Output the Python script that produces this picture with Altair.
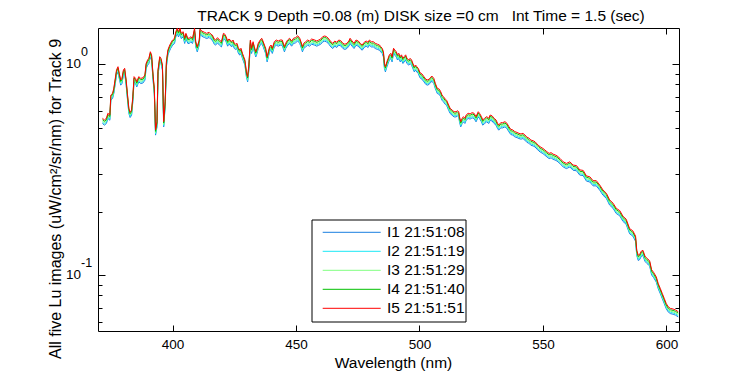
import altair as alt
import pandas as pd

# ---------------- data ----------------
image_names = ["I1 21:51:08", "I2 21:51:19", "I3 21:51:29", "I4 21:51:40", "I5 21:51:51"]
image_colors = ["#1a7fe0", "#19e8f5", "#80ff80", "#00c000", "#ff0000"]
# relative level of each image versus I5
image_level = [0.945, 0.958, 0.970, 0.985, 1.000]

wavelength = [
    371.6, 372.4, 373.2, 373.8, 374.6, 375.0, 375.7, 376.2, 376.8, 377.3, 377.9, 378.4, 379.0, 379.5,
    380.1, 380.6, 381.2, 381.7, 382.3, 382.8, 383.4, 383.9, 384.4, 385.0, 385.5, 386.3, 387.1, 388.0,
    388.8, 389.3, 389.9, 390.4, 391.0, 391.5, 392.1, 392.6, 393.1, 393.7, 394.1, 394.8, 395.3, 395.9,
    396.4, 397.0, 397.5, 398.1, 398.6, 399.2, 400.0, 400.8, 401.3, 401.9, 402.4, 403.0, 403.5, 404.3,
    404.9, 405.4, 406.2, 406.8, 407.3, 408.1, 408.9, 409.4, 410.0, 410.8,
    411.1, 411.8, 412.9, 413.8, 414.8, 415.6, 416.1, 416.9, 417.4, 418.2, 419.0, 419.8, 420.6, 421.2,
    421.7, 422.3, 422.8, 423.4, 423.9, 424.5, 425.0, 425.6, 426.1, 426.6, 427.2, 427.7, 428.3, 428.8,
    429.3, 429.9, 430.4, 430.9, 431.5, 432.0, 432.6, 433.1, 433.7, 434.2, 434.7, 435.5, 436.1, 436.6,
    437.2, 437.7, 438.3, 438.8, 439.3, 439.9, 440.4, 441.2, 442.0, 442.8, 443.6, 444.4, 445.3, 445.8,
    446.6, 447.4, 448.2, 449.0, 449.8, 450.7, 451.5, 452.0, 452.6, 453.1, 453.9, 454.7, 455.5, 456.3,
    457.6, 458.4, 459.2, 460.0, 460.8, 461.6, 462.4, 463.3, 464.1, 464.9, 465.7, 466.5, 467.3, 468.1,
    469.0, 469.8, 470.6, 471.4, 471.9, 472.7, 473.5, 474.3, 475.2, 476.0, 476.8, 477.6, 478.4, 479.2,
    479.7, 480.5, 481.3, 482.1, 483.0, 483.8, 484.3, 484.9, 485.4, 485.8, 486.2, 486.8, 487.3, 487.8,
    488.4, 488.9, 489.5, 490.0, 490.6, 491.1, 491.6, 492.2, 492.7, 493.3, 493.8, 494.4, 494.9, 495.7,
    496.2, 496.8, 497.3, 497.9, 498.4, 498.9, 499.5,
    500.2, 501.0, 501.8, 502.6, 503.4, 504.2, 505.0, 505.8, 506.4, 507.2, 508.0, 508.6, 509.1, 509.7,
    510.5, 511.0, 511.8, 512.4, 513.2, 514.0, 514.8, 515.4, 515.9, 516.2, 516.7, 517.3, 517.8, 518.4,
    518.9, 519.7, 520.5, 521.3, 522.1, 522.9, 523.8, 524.3, 525.1, 525.6, 526.4, 527.2, 528.1, 528.6,
    529.4, 530.2, 531.0, 531.6, 532.1, 532.9, 533.7, 534.6, 535.4, 536.2, 537.0, 537.8, 538.6, 539.5,
    540.3, 541.1, 541.9, 542.7, 543.5, 544.3, 545.1, 546.0, 546.8, 547.6, 548.4, 549.2, 550.0, 550.8,
    551.6, 552.5, 553.3, 554.1, 554.9, 555.7,
    556.9, 558.2, 559.5, 560.9, 562.2, 563.6, 564.9, 566.3, 567.6, 569.0, 570.3, 571.6, 573.0, 574.3,
    575.7, 577.0, 578.4, 579.7, 581.1, 582.4, 583.7, 585.1, 586.4, 587.5, 588.0, 588.6, 589.1, 589.9,
    590.5, 591.3, 592.1, 593.2, 594.0, 594.8, 595.9, 596.7, 597.5, 598.3, 599.1, 599.9, 600.7, 601.6,
    602.7, 603.7, 604.8,
]

# I5 (top, red) curve
lu_i5 = [
    0.553, 0.543, 0.553, 0.584, 0.573, 0.713, 0.726, 0.767, 0.855, 0.937, 0.971, 0.904, 0.840, 0.855,
    0.937, 0.954, 0.840, 0.726, 0.617, 0.590, 0.605, 0.700, 0.871, 0.855, 0.824, 0.871, 0.855, 0.860,
    0.887, 1.008, 1.045, 1.064, 1.143, 1.105, 0.887, 0.767, 0.487, 0.533, 0.937, 1.083, 1.064, 0.989,
    0.533, 0.663, 1.026, 1.165, 1.208, 1.253, 1.299, 1.324, 1.422, 1.476, 1.422, 1.476, 1.397, 1.422,
    1.324, 1.397, 1.324, 1.324, 1.347, 1.324, 1.476, 1.275, 1.208, 1.299,
    1.465, 1.433, 1.413, 1.397, 1.413, 1.383, 1.372, 1.313, 1.299, 1.333, 1.299, 1.275, 1.397, 1.383,
    1.347, 1.285, 1.313, 1.299, 1.275, 1.299, 1.253, 1.240, 1.253, 1.195, 1.165, 1.187, 1.124, 1.083,
    1.045, 0.920, 0.871, 0.989, 1.299, 1.187, 1.275, 1.208, 1.143, 1.187, 1.253, 1.299, 1.324, 1.285,
    1.230, 1.187, 1.083, 1.143, 1.208, 1.230, 1.187, 1.275, 1.299, 1.285, 1.299, 1.299, 1.208, 1.253,
    1.299, 1.324, 1.285, 1.324, 1.333, 1.361, 1.324, 1.275, 1.208, 1.253, 1.275, 1.299, 1.285, 1.313,
    1.299, 1.285, 1.299, 1.313, 1.347, 1.357, 1.347, 1.313, 1.275, 1.253, 1.285, 1.267, 1.299, 1.290,
    1.253, 1.240, 1.253, 1.285, 1.324, 1.285, 1.253, 1.299, 1.285, 1.253, 1.230, 1.267, 1.285, 1.267,
    1.299, 1.275, 1.275, 1.253, 1.240, 1.230, 1.208, 1.187, 1.143, 1.008, 0.971, 1.026, 1.064, 1.105,
    1.124, 1.083, 1.187, 1.165, 1.143, 1.105, 1.124, 1.083, 1.105, 1.064, 1.083, 1.105, 1.064, 1.045,
    1.064, 1.045, 1.008, 0.971, 0.989, 0.971, 0.954,
    0.910, 0.897, 0.871, 0.846, 0.840, 0.855, 0.877, 0.855, 0.810, 0.767, 0.760, 0.739, 0.713, 0.700,
    0.680, 0.673, 0.639, 0.617, 0.605, 0.594, 0.594, 0.600, 0.594, 0.563, 0.533, 0.553, 0.563, 0.553,
    0.573, 0.584, 0.580, 0.588, 0.584, 0.563, 0.594, 0.584, 0.563, 0.543, 0.553, 0.563, 0.553, 0.573,
    0.568, 0.553, 0.543, 0.524, 0.514, 0.527, 0.527, 0.533, 0.524, 0.505, 0.490, 0.487, 0.478, 0.474,
    0.469, 0.466, 0.469, 0.461, 0.450, 0.446, 0.436, 0.433, 0.428, 0.418, 0.409, 0.403, 0.398, 0.391,
    0.384, 0.377, 0.380, 0.374, 0.371, 0.367,
    0.357, 0.344, 0.338, 0.344, 0.332, 0.330, 0.315, 0.313, 0.295, 0.292, 0.280, 0.280, 0.267, 0.253,
    0.244, 0.227, 0.219, 0.207, 0.202, 0.190, 0.184, 0.166, 0.162, 0.153, 0.131, 0.124, 0.125, 0.130,
    0.131, 0.123, 0.120, 0.117, 0.106, 0.103, 0.098, 0.091, 0.0865, 0.0819, 0.0776, 0.0734, 0.0708, 0.0695,
    0.0690, 0.0683, 0.0670,
]

x_ticks = [400, 450, 500, 550, 600]
y_ticks = [0.06, 0.07, 0.08, 0.09, 0.1, 0.2, 0.3, 0.4, 0.5, 0.6, 0.7, 0.8, 0.9, 1.0]
# labelled decades: value, base text, exponent text
decade_values = [1.0, 0.1]
decade_base = ["10", "10"]
decade_exp = ["0", "-1"]

title_text = "TRACK 9 Depth =0.08 (m) DISK size =0 cm \u00a0 Int Time = 1.5 (sec)"
x_title = "Wavelength (nm)"
y_title = "All five Lu images (uW/cm\u00b2/sr/nm) for Track 9"

# ---------------- layout ----------------
W, H = 581, 303
FONT = "Liberation Sans"

rows = []
for name, lvl in zip(image_names, image_level):
    for w, v in zip(wavelength, lu_i5):
        rows.append({"image": name, "wl": w, "lu": v * lvl})
df = pd.DataFrame(rows)

color_scale = alt.Scale(domain=image_names, range=image_colors)
x_scale = alt.Scale(domain=[369.8, 605.1], nice=False, zero=False)
y_scale = alt.Scale(type="log", domain=[0.0543, 1.481], nice=False)

major_test = "datum.value == 1 || abs(datum.value - 0.1) < 1e-9"

lines = alt.Chart(df).mark_line(strokeWidth=1, clip=True).encode(
    x=alt.X(
        "wl:Q",
        scale=x_scale,
        axis=alt.Axis(
            values=x_ticks, title=x_title, ticks=False, domain=False,
            labelPadding=6, labelFontSize=13.5, labelFont=FONT, labelColor="black",
            labelFlush=False,
            titleFont=FONT, titleFontSize=15.5, titleFontWeight="normal", titleColor="black",
            titleX=295, titleY=31, titleBaseline="middle", titleAlign="center",
            grid=True, gridColor="black", gridOpacity=1, gridWidth=1,
            gridDash=[6, H - 12, 6, 3000],
        ),
    ),
    y=alt.Y(
        "lu:Q",
        scale=y_scale,
        axis=alt.Axis(
            values=y_ticks, title=y_title, ticks=False, domain=False, labels=False,
            titleFont=FONT, titleFontSize=16, titleFontWeight="normal", titleColor="black",
            titleAngle=270, titleX=-43, titleY=170.5, titleAlign="center", titleBaseline="middle",
            grid=True, gridColor="black", gridOpacity=1, gridWidth=1,
            gridDash={"condition": {"test": major_test, "value": [7, W - 14, 7, 3000]},
                      "value": [4, W - 8, 4, 3000]},
        ),
    ),
    color=alt.Color("image:N", scale=color_scale, legend=None),
)

dec_df = pd.DataFrame({"v": decade_values, "base": decade_base, "exp": decade_exp})
dec_base = alt.Chart(dec_df).mark_text(
    align="right", baseline="middle", font=FONT, fontSize=13.5, color="black"
).encode(x=alt.value(-17), y=alt.Y("v:Q", scale=y_scale), text="base:N")
dec_exp = alt.Chart(dec_df).mark_text(
    align="left", baseline="middle", font=FONT, fontSize=12.5, color="black", dy=-12
).encode(x=alt.value(-17), y=alt.Y("v:Q", scale=y_scale), text="exp:N")

one = pd.DataFrame({"k": [0]})
layers = [lines, dec_base, dec_exp]
layers.append(
    alt.Chart(one).mark_rect(fill="white", stroke="black", strokeWidth=1).encode(
        x=alt.value(214), x2=alt.value(368), y=alt.value(192), y2=alt.value(294)
    )
)
for i, (name, col) in enumerate(zip(image_names, image_colors)):
    ly = 204.3 + 19 * i
    layers.append(
        alt.Chart(one).mark_rule(color=col, strokeWidth=1).encode(
            x=alt.value(224.7), x2=alt.value(282.7), y=alt.value(ly)
        )
    )
    layers.append(
        alt.Chart(one).mark_text(
            text=name, align="left", baseline="middle", font=FONT, fontSize=15.5, color="black"
        ).encode(x=alt.value(289), y=alt.value(ly))
    )

chart = alt.layer(*layers).properties(
    width=W,
    height=H,
    title=alt.TitleParams(
        text=title_text, font=FONT, fontSize=15.5, fontWeight="normal", color="black",
        anchor="middle", frame="group", dx=32.5, dy=17, offset=9, baseline="alphabetic",
    ),
    autosize=alt.AutoSizeParams(type="none"),
    padding={"left": 98, "top": 28, "right": 71, "bottom": 44},
    background="white",
).configure_view(stroke="black", strokeWidth=1)

chart.save("out.html", embed_options={"renderer": "svg", "actions": False})
